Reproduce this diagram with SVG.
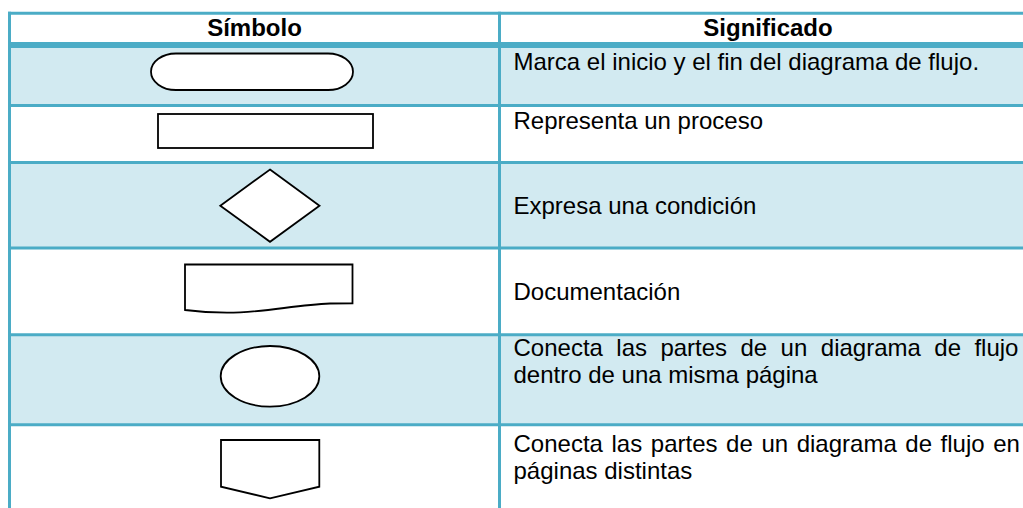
<svg xmlns="http://www.w3.org/2000/svg" width="1023" height="508" viewBox="0 0 1023 508">
<style>
.bg{fill:#ffffff}
.band{fill:#d2eaf1}
.grid{stroke:#4bacc6;stroke-width:3;fill:none}
.sym{fill:#ffffff;stroke:#000000;stroke-width:1.8;stroke-linejoin:miter}
.hd{font-family:"Liberation Sans",Arial,sans-serif;font-size:24px;font-weight:bold;fill:#000;text-anchor:middle}
.tx{font-family:"Liberation Sans",Arial,sans-serif;font-size:24px;fill:#000}
</style>
<rect class="bg" x="0" y="0" width="1023" height="508"/>
<g id="table">
  <rect class="band" x="11" y="48" width="1012" height="56"/>
  <rect class="band" x="11" y="164" width="1012" height="83"/>
  <rect class="band" x="11" y="336" width="1012" height="88"/>
  <line class="grid" x1="8" y1="13.2" x2="1023" y2="13.2"/>
  <line class="grid" x1="8" y1="45" x2="1023" y2="45" style="stroke-width:6"/>
  <line class="grid" x1="8" y1="105.5" x2="1023" y2="105.5"/>
  <line class="grid" x1="8" y1="162.5" x2="1023" y2="162.5"/>
  <line class="grid" x1="8" y1="248" x2="1023" y2="248"/>
  <line class="grid" x1="8" y1="334.7" x2="1023" y2="334.7"/>
  <line class="grid" x1="8" y1="424.7" x2="1023" y2="424.7"/>
  <line class="grid" x1="9.5" y1="11.7" x2="9.5" y2="508"/>
  <line class="grid" x1="499.5" y1="11.7" x2="499.5" y2="508"/>
</g>
<g id="header">
  <text class="hd" x="254.5" y="36">Símbolo</text>
  <text class="hd" x="768" y="36">Significado</text>
</g>
<g id="connectors"></g>
<g id="terminal">
  <rect class="sym" x="151" y="53.5" width="202" height="36.5" rx="25" ry="18.25"/>
  <text class="tx" x="513.5" y="70">Marca el inicio y el fin del diagrama de flujo.</text>
</g>
<g id="process">
  <rect class="sym" x="158" y="114" width="215" height="34"/>
  <text class="tx" x="513.5" y="129.3">Representa un proceso</text>
</g>
<g id="decision">
  <polygon class="sym" points="270,169.5 319.5,205.8 270,241.8 220.3,205.8"/>
  <text class="tx" x="513.5" y="214">Expresa una condición</text>
</g>
<g id="document">
  <path class="sym" d="M185,264.5 H352.5 V303.3 L330,303.5 C295,305 262,312.8 227,312.7 Q205,312.5 185,310 Z"/>
  <text class="tx" x="513.5" y="300">Documentación</text>
</g>
<g id="connector-same-page">
  <ellipse class="sym" cx="270" cy="376.3" rx="49.3" ry="30.3"/>
  <text class="tx" y="355.5"><tspan x="513.5">Conecta</tspan><tspan x="616.3">las</tspan><tspan x="660.4">partes</tspan><tspan x="740.5">de</tspan><tspan x="780.6">un</tspan><tspan x="820.8">diagrama</tspan><tspan x="934.3">de</tspan><tspan x="974.4">flujo</tspan></text>
  <text class="tx" x="513.5" y="383">dentro de una misma página</text>
</g>
<g id="connector-off-page">
  <polygon class="sym" points="221,440 319.3,440 319.3,486.7 270,498.3 221,486.7"/>
  <text class="tx" y="451.5"><tspan x="513.5">Conecta</tspan><tspan x="611.5">las</tspan><tspan x="650.8">partes</tspan><tspan x="726.1">de</tspan><tspan x="761.4">un</tspan><tspan x="796.7">diagrama</tspan><tspan x="905.3">de</tspan><tspan x="940.6">flujo</tspan><tspan x="993.2">en</tspan></text>
  <text class="tx" x="513.5" y="478.5">páginas distintas</text>
</g>
</svg>
